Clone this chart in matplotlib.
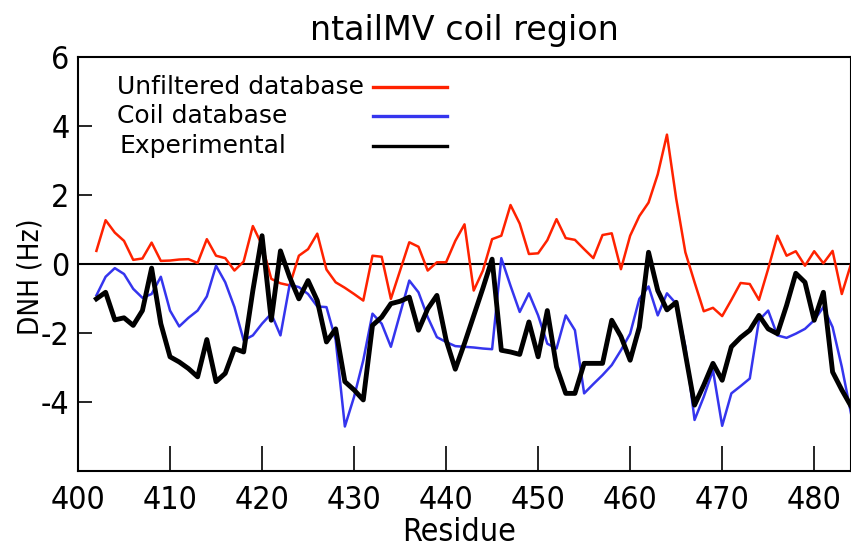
import matplotlib
matplotlib.use("Agg")
import matplotlib.pyplot as plt
import numpy as np

residues = np.arange(402, 485)

unfiltered = [0.38, 1.27, 0.91, 0.67, 0.12, 0.16, 0.62, 0.09, 0.10, 0.13,
              0.14, 0.03, 0.72, 0.24, 0.17, -0.19, 0.07, 1.10, 0.55, -0.43,
              -0.56, -0.62, 0.24, 0.43, 0.88, -0.16, -0.53, -0.69, -0.87, -1.06,
              0.24, 0.21, -1.01, -0.19, 0.63, 0.50, -0.19, 0.05, 0.05, 0.67,
              1.15, -0.77, -0.19, 0.72, 0.82, 1.71, 1.17, 0.29, 0.31, 0.69,
              1.30, 0.75, 0.70, 0.43, 0.17, 0.84, 0.89, -0.15, 0.82, 1.39,
              1.78, 2.60, 3.75, 1.90, 0.34, -0.53, -1.37, -1.27, -1.51, -1.04,
              -0.55, -0.58, -1.04, -0.14, 0.82, 0.24, 0.37, -0.05, 0.37, 0.02,
              0.38, -0.87, 0.0]

coil = [-0.91, -0.37, -0.12, -0.29, -0.72, -0.98, -0.87, -0.37, -1.35, -1.81,
        -1.56, -1.35, -0.94, -0.05, -0.53, -1.25, -2.21, -2.07, -1.73, -1.44,
        -2.07, -0.60, -0.67, -0.87, -1.23, -1.25, -2.20, -4.71, -3.85, -2.79,
        -1.44, -1.73, -2.40, -1.44, -0.48, -0.82, -1.54, -2.12, -2.26, -2.38,
        -2.40, -2.42, -2.45, -2.47, 0.17, -0.63, -1.39, -0.85, -1.49, -2.31,
        -2.45, -1.49, -1.92, -3.75, -3.48, -3.22, -2.93, -2.50, -2.02, -1.01,
        -0.65, -1.49, -0.85, -1.15, -2.40, -4.52, -3.85, -3.08, -4.69, -3.75,
        -3.54, -3.32, -1.63, -1.35, -2.07, -2.14, -2.02, -1.88, -1.63, -1.25,
        -1.83, -2.98, -4.33]

experimental = [-1.01, -0.82, -1.62, -1.56, -1.78, -1.35, -0.12, -1.73, -2.69, -2.84,
                -3.03, -3.27, -2.19, -3.41, -3.17, -2.45, -2.55, -0.77, 0.82, -1.63,
                0.38, -0.38, -1.01, -0.48, -1.06, -2.26, -1.88, -3.41, -3.65, -3.94,
                -1.78, -1.54, -1.15, -1.08, -0.96, -1.92, -1.30, -0.91, -2.20, -3.05,
                -2.30, -1.50, -0.70, 0.14, -2.50, -2.55, -2.62, -1.68, -2.69, -1.35,
                -2.98, -3.75, -3.75, -2.88, -2.88, -2.88, -1.63, -2.10, -2.79, -1.83,
                0.34, -0.77, -1.33, -1.11, -2.60, -4.09, -3.51, -2.88, -3.37, -2.40,
                -2.13, -1.92, -1.49, -1.88, -2.02, -1.20, -0.27, -0.53, -1.63, -0.82,
                -3.13, -3.65, -4.12]

names = ["Unfiltered database", "Coil database", "Experimental"]
colors = ["#ff2200", "#3535ee", "black"]
widths = [1.8, 1.8, 3.5]

xticks = np.arange(400, 481, 10)
yticks = [-4, -2, 0, 2, 4, 6]

plt.rcParams['font.family'] = ['DejaVu Sans']
plt.rcParams['axes.unicode_minus'] = False

fig = plt.figure(figsize=(8.51, 5.47), dpi=100)
ax = fig.add_axes([78 / 851, 76 / 547, 1 - 78 / 851, 414 / 547])

ax.axhline(0, color='black', lw=1.5, zorder=1)
for vals, c, w in zip([unfiltered, coil, experimental], colors, widths):
    ax.plot(residues, vals, color=c, lw=w, zorder=2)

# legend drawn by hand: text left aligned, samples lined up on the right
for i, (name, c) in enumerate(zip(names, colors)):
    yy = 0.928 - i * 0.071
    ax.text(0.051 if i < 2 else 0.054, yy, name, transform=ax.transAxes,
            fontsize=18, va='center', ha='left')
    ax.plot([0.382, 0.477], [yy, yy], transform=ax.transAxes, color=c, lw=2.4)

ax.set_xlim(400, 484)
ax.set_ylim(-6, 6)
ax.set_xticks(xticks)
ax.set_yticks(yticks)
ax.tick_params(axis='x', direction='in', length=18, width=1.2, pad=10, labelsize=23)
ax.tick_params(axis='y', direction='in', length=10, width=1.2, pad=6, labelsize=23)
for lab in ax.get_xticklabels() + ax.get_yticklabels():
    lab.set_fontstretch('condensed')
for s in ax.spines.values():
    s.set_linewidth(1.5)

ax.set_title("ntailMV coil region", fontsize=24, pad=12)
ax.set_xlabel("Residue", fontsize=23, fontstretch='condensed')
ax.set_ylabel("DNH (Hz)", fontsize=20, fontstretch='condensed')
ax.xaxis.set_label_coords(0.493, -0.11)
ax.yaxis.set_label_coords(-0.043, 0.47)

fig.savefig("out.png", dpi=100)
